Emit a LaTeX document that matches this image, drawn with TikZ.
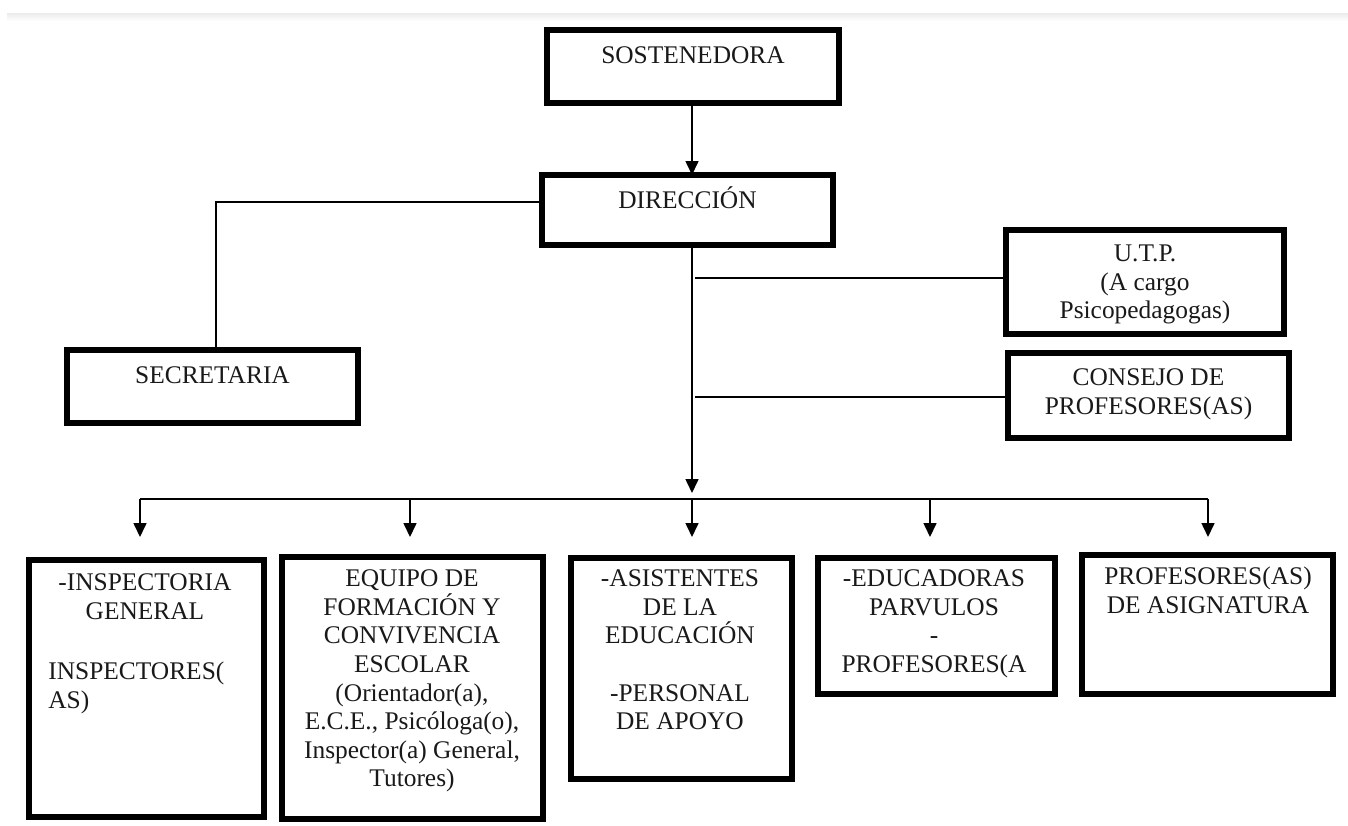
\documentclass[tikz,border=0pt]{standalone}
\usepackage{fontspec}
\setmainfont{Liberation Serif}
\usetikzlibrary{arrows.meta,calc}
\begin{document}
\begin{tikzpicture}[x=0.5pt,y=-0.5pt]
\tikzset{
 orgbox/.style={draw=black, line width=3pt, inner sep=0pt, outer sep=0pt, fill=white},
 txt/.style={anchor=north, inner sep=0pt, align=center, text=black!90,
   font=\fontsize{12.7pt}{14.3pt}\selectfont, execute at begin node={\rule{0pt}{11pt}}},
 conn/.style={line width=0.8pt, draw=black},
 arr/.style={conn, -{Triangle[length=7pt,width=6.5pt]}},
}
\useasboundingbox (0,0) rectangle (1348,825);
\fill[white] (0,0) rectangle (1348,825);
\shade[top color=black!8, bottom color=white] (7,13) rectangle (1348,21);

% boxes
\node[orgbox, minimum width=146pt,   minimum height=36.5pt] (sost) at (693,66.5) {};
\node[orgbox, minimum width=145.5pt, minimum height=35pt]   (dir)  at (687.5,210) {};
\node[orgbox, minimum width=145.5pt, minimum height=36.5pt] (sec)  at (212.5,386.5) {};
\node[orgbox, minimum width=139pt,   minimum height=52pt]   (utp)  at (1145,282) {};
\node[orgbox, minimum width=140.5pt, minimum height=42.5pt] (cons) at (1148.5,395.5) {};
\node[orgbox, minimum width=117.5pt, minimum height=128.5pt] (b1) at (146.5,688.5) {};
\node[orgbox, minimum width=130.5pt, minimum height=131pt]   (b2) at (412.5,688) {};
\node[orgbox, minimum width=110.5pt, minimum height=110.5pt] (b3) at (681.5,668.5) {};
\node[orgbox, minimum width=118.5pt, minimum height=68pt]    (b4) at (936.5,626) {};
\node[orgbox, minimum width=125.5pt, minimum height=69.5pt]  (b5) at (1207.5,624.5) {};

% connectors
\coordinate (tx) at (692,0);
\draw[arr] (sost.south -| tx) -- (dir.north -| tx);
\coordinate (ctip) at (692,493);
\draw[arr] (dir.south -| tx) -- (ctip);
\coordinate (j1) at (695,278);
\draw[conn] (j1) -- (j1 -| utp.west);
\coordinate (j2) at (695,397);
\draw[conn] (j2) -- (j2 -| cons.west);
\coordinate (sl) at (216,202);
\draw[conn] (sl -| dir.west) -- (sl) -- (sl |- sec.north);

\coordinate (a1) at (140,499);
\coordinate (a2) at (410,499);
\coordinate (a3) at (692,499);
\coordinate (a4) at (930,499);
\coordinate (a5) at (1208,499);
\coordinate (ty) at (0,537);
\draw[conn] (a1) -- (a5);
\foreach \i in {1,...,5} \draw[arr] (a\i) -- (a\i |- ty);

% texts
\node[txt] (tsost) at (693,41.5) {SOSTENEDORA};
\node[txt] (tdir) at (687.5,186.5) {DIRECCIÓN};
\node[txt] (tsec) at (212.5,361.5) {SECRETARIA};
\node[txt] (tutp) at (1145,244.5) {U.T.P.\\(A cargo\\Psicopedagogas)};
\node[txt] (tcons) at (1148.5,368.5) {CONSEJO DE\\PROFESORES(AS)};
\node[txt] (t1) at (145,573.5) {-INSPECTORIA\\GENERAL};
\node[txt, anchor=north west, align=left] (t1b) at (48,661.5) {INSPECTORES(\\AS)};
\node[txt] (t2) at (412,569.5) {EQUIPO DE\\FORMACIÓN Y\\CONVIVENCIA\\ESCOLAR\\(Orientador(a),\\E.C.E., Psicóloga(o),\\Inspector(a) General,\\Tutores)};
\node[txt] (t3) at (680,569.5) {-ASISTENTES\\DE LA\\EDUCACIÓN\\[14.3pt]-PERSONAL\\DE APOYO};
\node[txt] (t4) at (934,569.5) {-EDUCADORAS\\PARVULOS\\-\\PROFESORES(A};
\node[txt] (t5) at (1208,566.5) {PROFESORES(AS)\\DE ASIGNATURA};
\end{tikzpicture}
\end{document}
